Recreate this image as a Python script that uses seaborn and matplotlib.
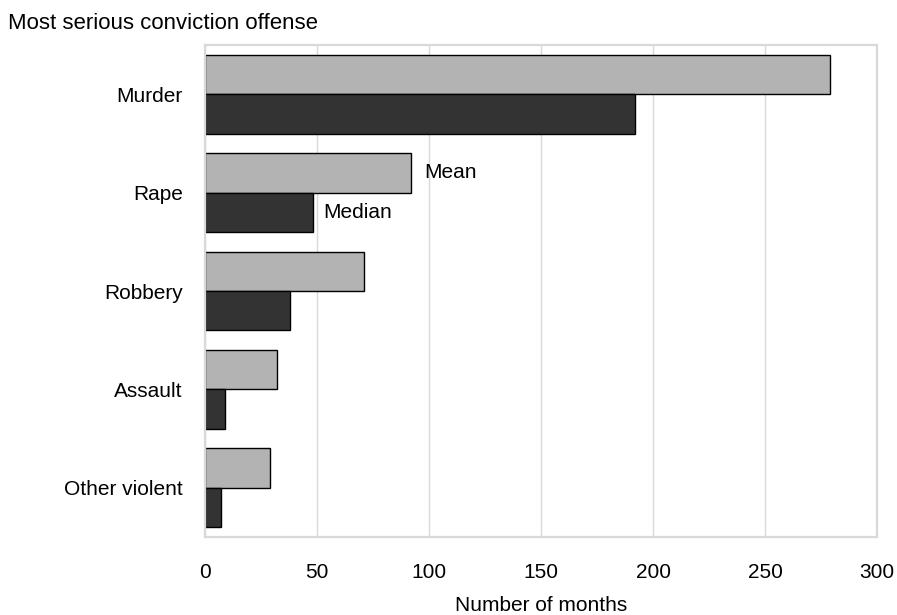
import pandas as pd
import matplotlib.pyplot as plt
import seaborn as sns

# Values (months served)
offenses = ["Murder", "Rape", "Robbery", "Assault", "Other violent"]
mean_months = [279, 92, 71, 32, 29]
median_months = [192, 48, 38, 9, 7]
stats = ["Mean", "Median"]
x_ticks = [0, 50, 100, 150, 200, 250, 300]

df = pd.DataFrame({
    "Offense": offenses * 2,
    "Stat": [stats[0]] * len(offenses) + [stats[1]] * len(offenses),
    "Months": mean_months + median_months,
})

sns.set_style("white")
plt.rcParams["font.family"] = ["Liberation Sans", "DejaVu Sans"]
plt.rcParams["text.color"] = "black"
plt.rcParams["axes.labelcolor"] = "black"
plt.rcParams["xtick.color"] = "black"
plt.rcParams["ytick.color"] = "black"

fig, ax = plt.subplots(figsize=(8.97, 6.15), dpi=100)
fig.subplots_adjust(left=205/897, right=877/897, top=1-45/615, bottom=1-537/615)

sns.barplot(data=df, y="Offense", x="Months", hue="Stat", orient="h",
            palette={"Mean": "#b3b3b3", "Median": "#333333"},
            edgecolor="black", linewidth=1, legend=False, ax=ax)

ax.set_xlim(0, 300)
ax.set_xticks(x_ticks)
ax.xaxis.grid(True, color="#d9d9d9", linewidth=1)
ax.set_axisbelow(True)
for s in ax.spines.values():
    s.set_visible(True)
    s.set_color("#d9d9d9")
    s.set_linewidth(1.6)

ax.tick_params(axis="both", length=0, labelsize=15, labelcolor="black")
ax.tick_params(axis="y", pad=16)
ax.tick_params(axis="x", pad=19)
ax.set_ylabel("")
ax.set_xlabel("Number of months", fontsize=15, labelpad=10, color="black")

# inline labels next to the Rape bars instead of a legend
ax.text(mean_months[1] + 6, 1 - 0.2, "Mean", va="center", fontsize=15, color="black")
ax.text(median_months[1] + 5, 1 + 0.2, "Median", va="center", fontsize=15, color="black")

fig.text(8/897, 1-29/615, "Most serious conviction offense", fontsize=16,
         ha="left", va="baseline", color="black")

fig.savefig("out.png", dpi=100)
